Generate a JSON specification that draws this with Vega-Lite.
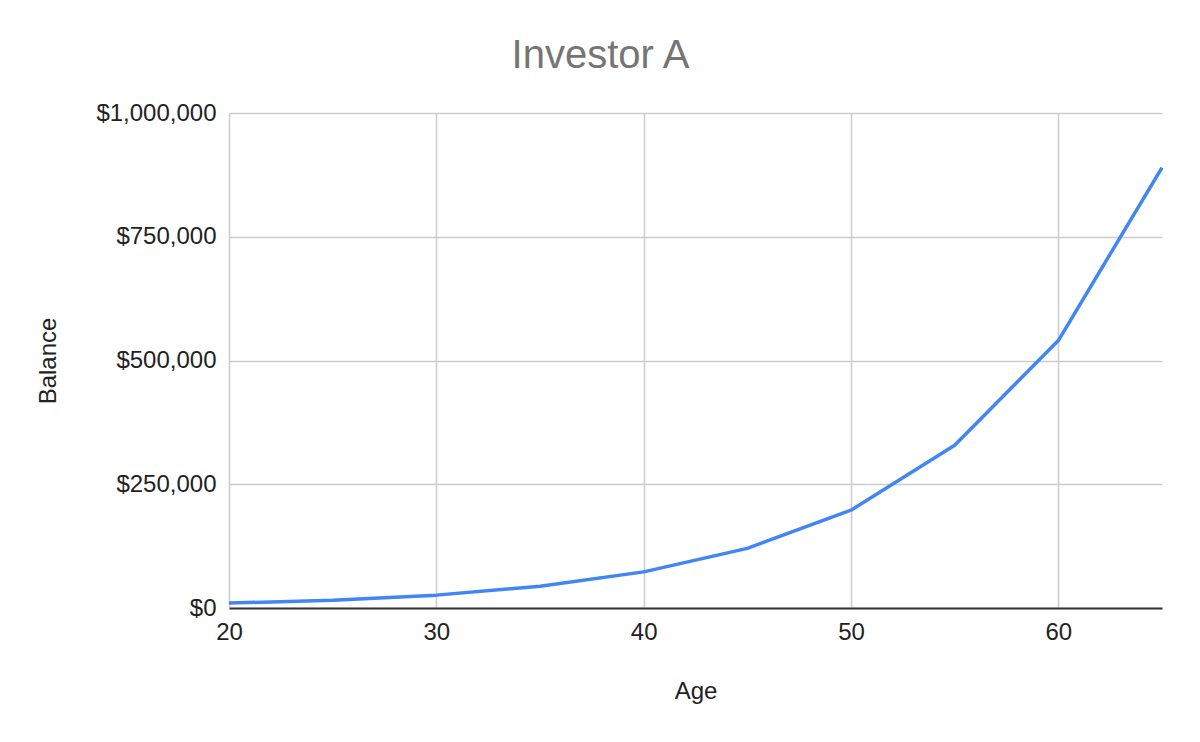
{
  "$schema": "https://vega.github.io/schema/vega-lite/v6.json",
  "width": 933,
  "height": 495,
  "autosize": {"type": "none"},
  "padding": {"left": 229, "top": 113, "right": 38, "bottom": 134},
  "background": "white",
  "title": {
    "text": "Investor A",
    "font": "Liberation Sans",
    "fontSize": 40,
    "fontWeight": "normal",
    "color": "#757575",
    "anchor": "middle",
    "dx": -95,
    "offset": 25
  },
  "data": {
    "values": [
      {"Age": 20, "Balance": 10000},
      {"Age": 25, "Balance": 15500},
      {"Age": 30, "Balance": 26000},
      {"Age": 35, "Balance": 44000},
      {"Age": 40, "Balance": 73000},
      {"Age": 45, "Balance": 120500},
      {"Age": 50, "Balance": 197600},
      {"Age": 55, "Balance": 328600},
      {"Age": 60, "Balance": 540300},
      {"Age": 65, "Balance": 889700}
    ]
  },
  "mark": {"type": "line", "color": "#4285F4", "strokeWidth": 3.5, "strokeJoin": "round"},
  "encoding": {
    "x": {
      "field": "Age",
      "type": "quantitative",
      "scale": {"domain": [20, 65], "nice": false, "zero": false},
      "axis": {
        "title": "Age",
        "values": [20, 30, 40, 50, 60],
        "grid": true,
        "gridColor": "#cccccc",
        "gridWidth": 1.5,
        "domain": true,
        "domainColor": "#333333",
        "domainWidth": 2,
        "ticks": false,
        "labelFlush": false,
        "labelFont": "Liberation Sans",
        "labelFontSize": 24,
        "labelColor": "#222222",
        "labelPadding": 12,
        "titleFont": "Liberation Sans",
        "titleFontSize": 24,
        "titleFontWeight": "normal",
        "titleColor": "#222222",
        "titlePadding": 35
      }
    },
    "y": {
      "field": "Balance",
      "type": "quantitative",
      "scale": {"domain": [0, 1000000], "nice": false},
      "axis": {
        "title": "Balance",
        "values": [0, 250000, 500000, 750000, 1000000],
        "format": "$,.0f",
        "grid": true,
        "gridColor": "#cccccc",
        "gridWidth": 1.5,
        "domain": false,
        "ticks": false,
        "labelFlush": false,
        "labelFont": "Liberation Sans",
        "labelFontSize": 24,
        "labelColor": "#222222",
        "labelPadding": 13,
        "titleFont": "Liberation Sans",
        "titleFontSize": 24,
        "titleFontWeight": "normal",
        "titleColor": "#222222",
        "titlePadding": 35
      }
    }
  },
  "config": {"view": {"stroke": null}}
}
